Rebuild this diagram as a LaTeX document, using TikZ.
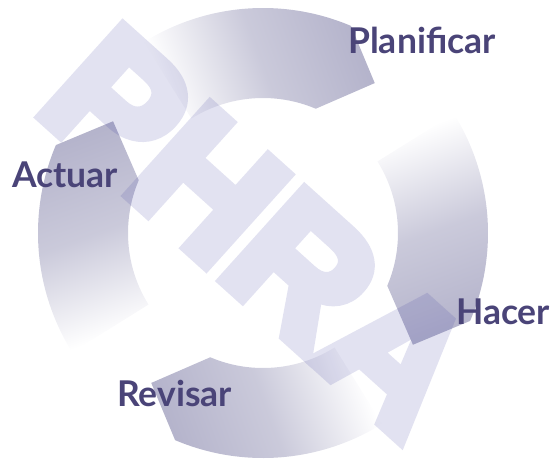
\documentclass[tikz,border=0pt]{standalone}
\usepackage{fontspec}
\newfontfamily\pdcalabel{Lato}
\newfontfamily\pdcawater[FakeBold=7]{Liberation Sans}
\definecolor{pdcaInk}{HTML}{4A4478}
\definecolor{pdcaShade}{HTML}{B4B3CB}
\definecolor{pdcaWater}{HTML}{3C3CA0}

\begin{document}
\begin{tikzpicture}[x=1pt,y=1pt,
    seg/.style={top color=pdcaShade,bottom color=white,middle color=pdcaShade!70!white},
    lbl/.style={anchor=base west,inner sep=0pt,text=pdcaInk,
                font=\pdcalabel\bfseries\fontsize{35.5}{35.5}\selectfont}]
  \useasboundingbox (-263,-226) rectangle (291,233);
  % ring segments, one per phase
  \foreach \corner/\tilt in {67/-70,-23/-160,-113/110,157/20}{
    \shade[seg,shading angle=\tilt]
      (\corner+55:225) arc[start angle=\corner+55,end angle=\corner,radius=225]
      -- (\corner-13.7:187) -- (\corner:135)
      arc[start angle=\corner,end angle=\corner+55,radius=135] -- cycle;
  }
  % watermark letters
  \begin{scope}[transparency group,opacity=0.15]
    \node[rotate=-42,inner sep=0pt,text=pdcaWater,
          font=\pdcawater\bfseries\fontsize{176}{176}\selectfont] (water) at (-4,2) {PHRA};
  \end{scope}
  \node[lbl] (plan) at (85,180) {Planificar};
  \node[lbl] (hacer) at (193,-91) {Hacer};
  \node[lbl] (revisar) at (-146,-173) {Revisar};
  \node[lbl] (actuar) at (-251,46) {Actuar};
\end{tikzpicture}
\end{document}
